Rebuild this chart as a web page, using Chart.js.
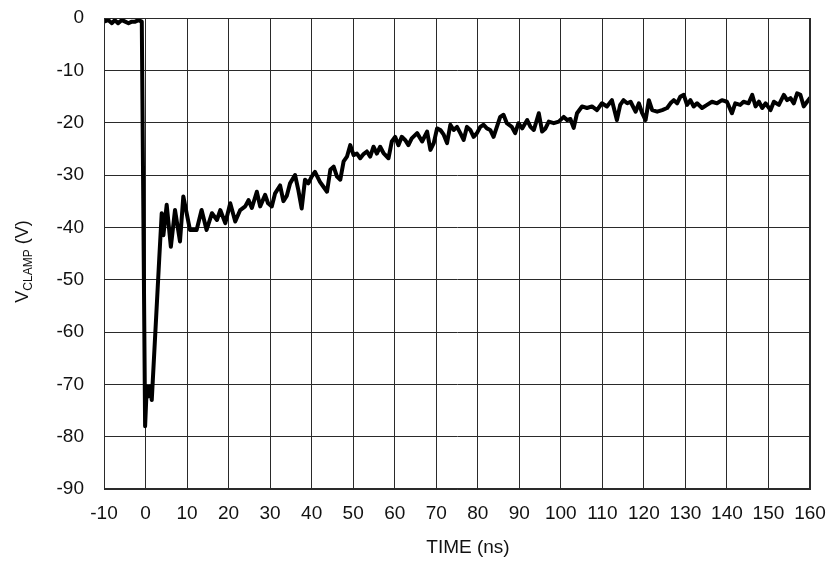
<!DOCTYPE html>
<html>
<head>
<meta charset="utf-8">
<script src="https://cdn.jsdelivr.net/npm/chart.js@4.4.1/dist/chart.umd.min.js"></script>
<style>
  html, body { margin: 0; padding: 0; background: #fff; }
  #wrap { width: 830px; height: 562px; }
</style>
</head>
<body>
<div id="wrap"><canvas id="clampChart" width="830" height="562"></canvas></div>
<script>
// Waveform: time in ns, clamp voltage in V
const timeNs = [
  -10, -9.0, -8.1, -7.4, -6.6, -5.7, -4.9, -4.1, -3.3, -2.5, -1.7, -0.9,
  -0.1, 0.3, 0.7, 1.1, 1.5, 3.3, 3.9, 4.3, 5.1, 6.1, 7.1, 8.3, 9.1,
  10.7, 12.3, 13.5, 14.7, 16.0, 17.2, 18.0, 19.2, 20.4, 21.6, 22.8, 24.0,
  24.8, 25.6, 26.8, 27.6, 28.8, 29.5, 30.4, 31.2, 32.4, 33.2, 34.0, 34.8,
  36.0, 36.8, 37.6, 38.4, 39.2, 40.0, 40.8, 42.0, 42.8, 43.7, 44.5, 45.3,
  46.1, 46.9, 47.7, 48.5, 49.3, 50.1, 50.9, 51.7, 52.5, 53.3, 54.1, 54.9,
  55.7, 56.5, 57.3, 58.5, 59.3, 60.1, 60.9, 61.7, 62.5, 63.3, 64.1, 65.4,
  66.6, 67.8, 68.6, 69.4, 70.2, 71.0, 71.8, 72.6, 73.4, 74.2, 75.0, 75.8,
  76.6, 77.4, 78.2, 79.0, 79.8, 80.6, 81.4, 82.2, 83.0, 83.8, 84.6, 85.4,
  86.2, 87.0, 88.2, 89.0, 89.8, 90.7, 91.9, 92.7, 93.5, 94.7, 95.5, 96.3,
  97.1, 98.3, 99.5, 100.7, 101.5, 102.3, 103.1, 103.9, 105.1, 106.3, 107.5,
  108.7, 109.9, 111.1, 112.3, 113.5, 114.3, 115.1, 116.0, 116.8, 118.0,
  118.8, 119.6, 120.4, 121.2, 122.0, 123.2, 124.4, 125.6, 126.4, 127.2,
  128.0, 128.8, 129.6, 130.4, 131.2, 132.0, 132.8, 134.0, 135.2, 136.4,
  137.6, 138.8, 140.0, 141.2, 142.0, 143.2, 144.0, 145.2, 146.1, 146.9,
  147.7, 148.5, 149.3, 150.5, 151.3, 152.5, 153.7, 154.5, 155.3, 156.1,
  156.9, 157.7, 158.5, 159.3, 160
];
const vClamp = [
  -0.7, -0.4, -1.0, -0.4, -1.0, -0.4, -0.7, -1.0, -0.7, -0.7, -0.4, -0.7,
  -78, -70.4, -72.3, -70.4, -73, -46, -37.3, -41.5, -35.7, -43.7, -36.7, -42.7, -34.1,
  -40.5, -40.5, -36.7, -40.5, -37.3, -38.6, -36.7, -39.2, -35.4, -38.9, -36.7, -36.0,
  -34.8, -36.3, -33.2, -36.0, -33.8, -35.4, -36.0, -33.5, -32.0, -35.0, -34.0, -31.6,
  -30.0, -32.9, -36.4, -30.9, -31.6, -30.3, -29.4, -31.3, -32.2, -33.2, -29.0, -28.4,
  -30.3, -30.9, -27.4, -26.5, -24.3, -26.2, -25.9, -26.8, -26.0, -25.5, -26.5, -24.6,
  -25.9, -24.6, -25.8, -26.8, -23.6, -22.7, -24.3, -22.7, -23.3, -24.3, -23.0, -22.0,
  -23.6, -21.7, -25.2, -23.9, -21.1, -21.4, -22.3, -23.9, -20.4, -21.4, -20.8, -22.0,
  -23.3, -20.8, -21.4, -22.7, -22.0, -20.8, -20.4, -21.1, -21.4, -22.7, -20.8, -18.9,
  -18.5, -20.1, -20.8, -22.0, -20.1, -21.1, -19.5, -20.8, -21.4, -18.2, -21.7, -21.1,
  -19.8, -20.1, -19.8, -18.9, -19.5, -19.3, -21.0, -18.2, -16.9, -17.2, -16.9,
  -17.6, -16.3, -16.9, -15.7, -19.5, -16.6, -15.7, -16.3, -16.0, -17.9,
  -16.3, -18.2, -19.5, -15.7, -17.6, -17.9, -17.6, -17.2, -16.3, -15.7,
  -16.3, -15.0, -14.7, -16.6, -15.7, -16.9, -16.3, -17.2, -16.6, -16.0,
  -16.3, -15.7, -16.0, -18.2, -16.3, -16.6, -16.0, -16.3, -14.7, -16.9,
  -16.0, -17.2, -16.3, -17.6, -16.0, -16.6, -14.7, -15.7, -15.3, -16.3,
  -14.4, -14.7, -16.9, -16.0, -15.3
];

// Axis settings
const xMin = -10, xMax = 160, xStep = 10;
const yMin = -90, yMax = 0, yStep = 10;
const xTitle = 'TIME (ns)';
const yTitleMain = 'V', yTitleSub = 'CLAMP', yTitleTail = ' (V)';

const FONT = '"Liberation Sans", Arial, Helvetica, sans-serif';
const gridColor = '#2a2a2a';

// Draw axis titles by hand (the y title needs a subscript)
const axisTitles = {
    id: 'axisTitles',
    afterDraw(chart) {
        const ctx = chart.ctx;
        const area = chart.chartArea;
        ctx.save();
        ctx.fillStyle = '#111';

        // x title
        ctx.font = '19px ' + FONT;
        ctx.textAlign = 'center';
        ctx.textBaseline = 'middle';
        ctx.fillText(xTitle, 468, 548);

        // y title, rotated, with subscript
        ctx.textAlign = 'left';
        ctx.textBaseline = 'alphabetic';
        ctx.font = '18px ' + FONT;
        const w1 = ctx.measureText(yTitleMain).width;
        const w3 = ctx.measureText(yTitleTail).width;
        ctx.font = '12px ' + FONT;
        const w2 = ctx.measureText(yTitleSub).width;
        const total = w1 + w2 + w3;
        const cy = (area.top + area.bottom) / 2 + 8;
        ctx.translate(28, cy + total / 2);
        ctx.rotate(-Math.PI / 2);
        ctx.font = '18px ' + FONT;
        ctx.fillText(yTitleMain, 0, 0);
        ctx.font = '12px ' + FONT;
        ctx.fillText(yTitleSub, w1, 4);
        ctx.font = '18px ' + FONT;
        ctx.fillText(yTitleTail, w1 + w2, 0);
        ctx.restore();
    }
};

const points = timeNs.map((t, i) => ({ x: t, y: vClamp[i] }));

new Chart(document.getElementById('clampChart'), {
    type: 'line',
    data: {
        datasets: [{
            data: points,
            borderColor: '#000',
            borderWidth: 4,
            pointRadius: 0,
            tension: 0,
            fill: false,
            borderJoinStyle: 'round',
            borderCapStyle: 'round'
        }]
    },
    options: {
        responsive: false,
        animation: false,
        devicePixelRatio: 1,
        layout: { padding: { top: 18, right: 20, left: 0, bottom: 0 } },
        plugins: {
            legend: { display: false },
            tooltip: { enabled: false }
        },
        scales: {
            x: {
                type: 'linear',
                min: xMin,
                max: xMax,
                afterFit: function(scale) {
                    scale.height = 73;
                    scale.paddingLeft = 0;
                    scale.paddingRight = 0;
                },
                ticks: {
                    stepSize: xStep,
                    padding: 13,
                    color: '#111',
                    font: { family: FONT, size: 19 },
                    maxRotation: 0,
                    callback: function(value) { return String(value); }
                },
                grid: { color: gridColor, lineWidth: 1, drawTicks: false },
                border: { color: gridColor, width: 1 }
            },
            y: {
                type: 'linear',
                min: yMin,
                max: yMax,
                afterFit: function(scale) {
                    scale.width = 104;
                    scale.paddingTop = 0;
                    scale.paddingBottom = 0;
                },
                ticks: {
                    stepSize: yStep,
                    padding: 20,
                    color: '#111',
                    font: { family: FONT, size: 19 },
                    callback: function(value) { return String(value); }
                },
                grid: { color: gridColor, lineWidth: 1, drawTicks: false },
                border: { color: gridColor, width: 1 }
            }
        }
    },
    plugins: [axisTitles,
        {
            // right and top frame lines
            id: 'frame',
            afterDraw(chart) {
                const a = chart.chartArea;
                const ctx = chart.ctx;
                ctx.save();
                ctx.strokeStyle = gridColor;
                ctx.lineWidth = 1;
                ctx.strokeRect(a.left + 0.5, a.top + 0.5, a.right - a.left - 1, a.bottom - a.top - 1);
                ctx.restore();
            }
        }
    ]
});
</script>
</body>
</html>
